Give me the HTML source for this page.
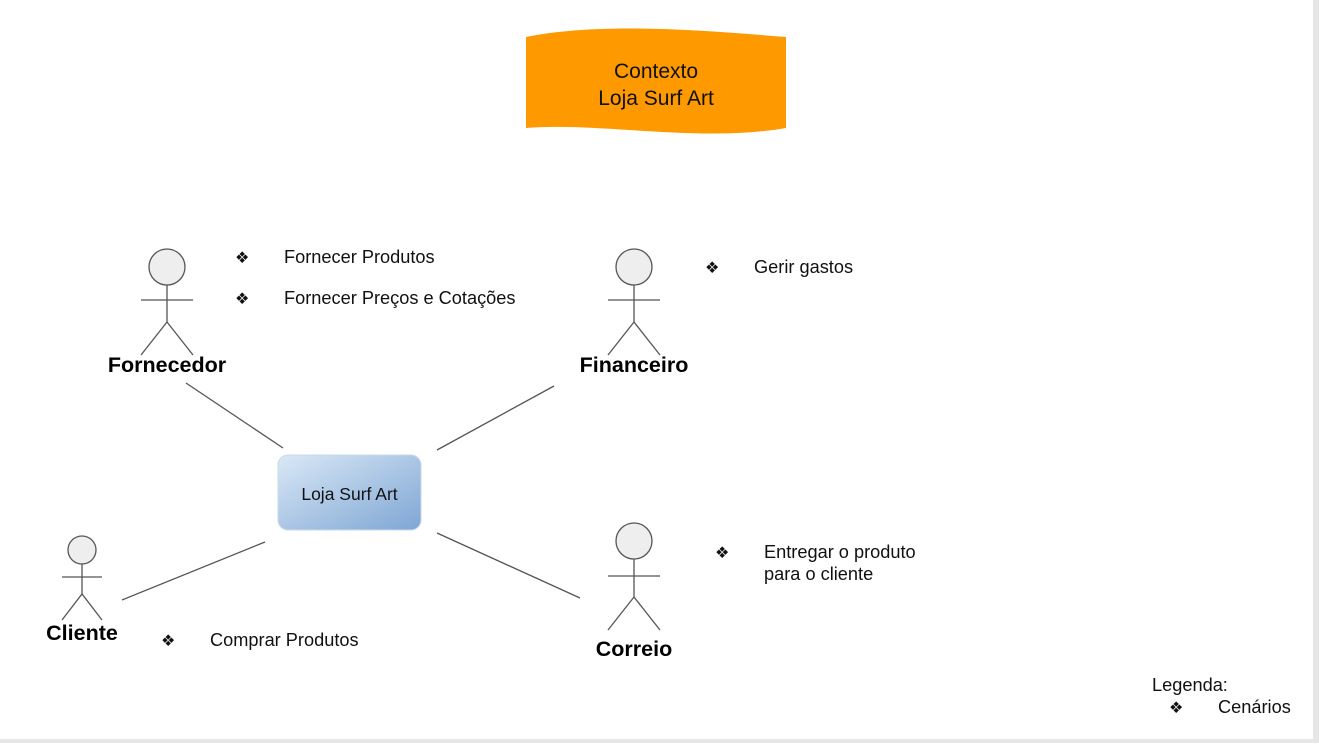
<!DOCTYPE html>
<html><head><meta charset="utf-8"><style>
body{margin:0;width:1319px;height:743px;background:#fff;overflow:hidden;font-family:"Liberation Sans","DejaVu Sans",sans-serif}
</style></head><body>
<svg width="1319" height="743" viewBox="0 0 1319 743" xmlns="http://www.w3.org/2000/svg" font-family="Liberation Sans, DejaVu Sans, sans-serif">
<defs><linearGradient id="g" x1="0" y1="0" x2="1" y2="1"><stop offset="0" stop-color="#dae8f6"/><stop offset="1" stop-color="#7ea6d4"/></linearGradient></defs>
<rect x="1313" y="0" width="6" height="743" fill="#e6e6e6"/>
<rect x="0" y="739" width="1319" height="4" fill="#e6e6e6"/>
<path d="M526,37 C600,22 700,30 786,37 L786,128 C700,143 600,122 526,128 Z" fill="#ff9900"/>
<text x="656" y="78" font-size="21" text-anchor="middle" fill="#111">Contexto</text>
<text x="656" y="105" font-size="21" text-anchor="middle" fill="#111">Loja Surf Art</text>
<g stroke="#555" stroke-width="1.3" fill="none">
<line x1="186" y1="383" x2="283" y2="448"/><line x1="554" y1="386" x2="437" y2="450"/>
<line x1="265" y1="542" x2="122" y2="600"/><line x1="437" y1="533" x2="580" y2="598"/>
</g>
<g stroke="#555" stroke-width="1.3" fill="#eee">
<circle cx="167" cy="267" r="18"/><line x1="167" y1="285" x2="167" y2="322"/><line x1="141" y1="300" x2="193" y2="300"/><polyline fill="none" points="141,355 167,322 193,355"/>
<circle cx="634" cy="267" r="18"/><line x1="634" y1="285" x2="634" y2="322"/><line x1="608" y1="300" x2="660" y2="300"/><polyline fill="none" points="608,355 634,322 660,355"/>
<circle cx="82" cy="550" r="14"/><line x1="82" y1="564" x2="82" y2="594"/><line x1="62" y1="577" x2="102" y2="577"/><polyline fill="none" points="62,620 82,594 102,620"/>
<circle cx="634" cy="541" r="18"/><line x1="634" y1="559" x2="634" y2="597"/><line x1="608" y1="576" x2="660" y2="576"/><polyline fill="none" points="608,630 634,597 660,630"/>
</g>
<g font-size="21.5" font-weight="bold" text-anchor="middle" fill="#000">
<text x="167" y="372">Fornecedor</text><text x="634" y="372">Financeiro</text>
<text x="82" y="640">Cliente</text><text x="634" y="656">Correio</text>
</g>
<rect x="278" y="455" width="143" height="75" rx="10" fill="url(#g)" stroke="#c8d8ea"/>
<text x="349.5" y="500" font-size="17.5" text-anchor="middle" fill="#111">Loja Surf Art</text>
<g font-size="18.2" fill="#111">
<text x="235" y="263" font-size="16">❖</text><text x="284" y="263">Fornecer Produtos</text>
<text x="235" y="304" font-size="16">❖</text><text x="284" y="304">Fornecer Preços e Cotações</text>
<text x="705" y="273" font-size="16">❖</text><text x="754" y="273">Gerir gastos</text>
<text x="715" y="558" font-size="16">❖</text><text x="764" y="558">Entregar o produto</text><text x="764" y="580">para o cliente</text>
<text x="161" y="646" font-size="16">❖</text><text x="210" y="646">Comprar Produtos</text>
<text x="1152" y="691">Legenda:</text>
<text x="1169" y="713" font-size="16">❖</text><text x="1218" y="713">Cenários</text>
</g>
</svg>
</body></html>
